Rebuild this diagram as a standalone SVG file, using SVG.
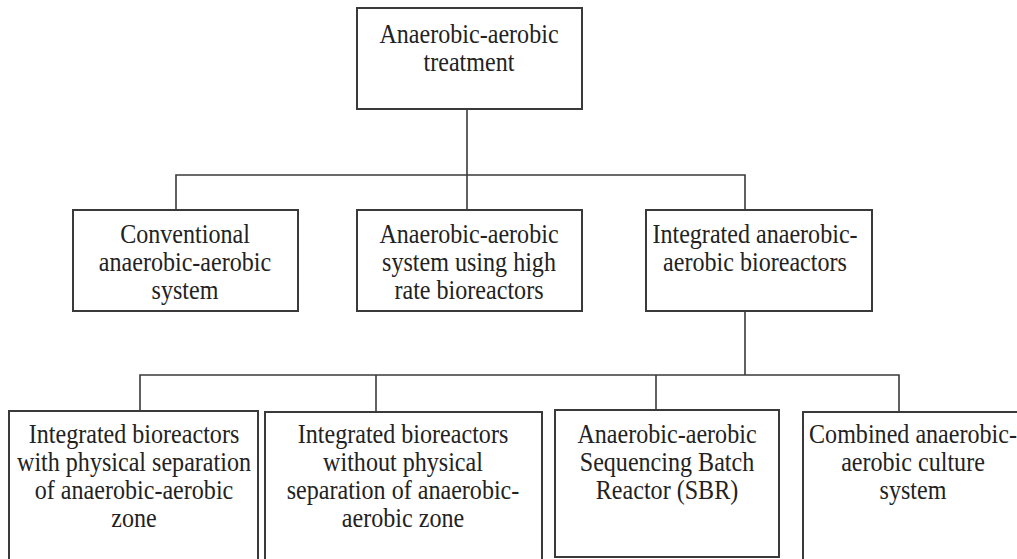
<svg xmlns="http://www.w3.org/2000/svg" width="1017" height="559" viewBox="0 0 1017 559">
<style>
.box{fill:#fff;stroke:#3a3a3a;stroke-width:2}
.t{font-size:28px;fill:#222;text-anchor:middle}
.c{fill:none;stroke:#3a3a3a;stroke-width:1.6}
</style>
<rect width="1017" height="559" fill="#fff"/>
<g id="connectors">
<path class="c" d="M467 109V210"/>
<path class="c" d="M176 210V175H745V210"/>
<path class="c" d="M745 311V375"/>
<path class="c" d="M140 411V375H899V412"/>
<path class="c" d="M376 375V412"/>
<path class="c" d="M656 375V410"/>
</g>
<g id="n-root">
<rect class="box" x="357" y="8" width="225" height="101"/>
<text class="t" font-family="Liberation Serif, serif" transform="translate(469 0) scale(0.86 1)"><tspan x="0" y="43">Anaerobic-aerobic</tspan><tspan x="0" y="71">treatment</tspan></text>
</g>
<g id="n-conventional">
<rect class="box" x="73" y="210" width="225" height="101"/>
<text class="t" font-family="Liberation Serif, serif" transform="translate(185 0) scale(0.86 1)"><tspan x="0" y="243">Conventional</tspan><tspan x="0" y="271">anaerobic-aerobic</tspan><tspan x="0" y="299">system</tspan></text>
</g>
<g id="n-highrate">
<rect class="box" x="357" y="210" width="225" height="101"/>
<text class="t" font-family="Liberation Serif, serif" transform="translate(469 0) scale(0.86 1)"><tspan x="0" y="243">Anaerobic-aerobic</tspan><tspan x="0" y="271">system using high</tspan><tspan x="0" y="299">rate bioreactors</tspan></text>
</g>
<g id="n-integrated">
<rect class="box" x="646" y="210" width="226" height="101"/>
<text class="t" font-family="Liberation Serif, serif" transform="translate(755 0) scale(0.86 1)"><tspan x="0" y="243">Integrated anaerobic-</tspan><tspan x="0" y="271">aerobic bioreactors</tspan></text>
</g>
<g id="n-with-sep">
<rect class="box" x="9" y="411" width="249" height="160"/>
<text class="t" font-family="Liberation Serif, serif" transform="translate(134 0) scale(0.86 1)"><tspan x="0" y="443">Integrated bioreactors</tspan><tspan x="0" y="471">with physical separation</tspan><tspan x="0" y="499">of anaerobic-aerobic</tspan><tspan x="0" y="527">zone</tspan></text>
</g>
<g id="n-without-sep">
<rect class="box" x="265" y="412" width="277" height="160"/>
<text class="t" font-family="Liberation Serif, serif" transform="translate(403 0) scale(0.86 1)"><tspan x="0" y="443">Integrated bioreactors</tspan><tspan x="0" y="471">without physical</tspan><tspan x="0" y="499">separation of anaerobic-</tspan><tspan x="0" y="527">aerobic zone</tspan></text>
</g>
<g id="n-sbr">
<rect class="box" x="555" y="410" width="224" height="147"/>
<text class="t" font-family="Liberation Serif, serif" transform="translate(667 0) scale(0.86 1)"><tspan x="0" y="443">Anaerobic-aerobic</tspan><tspan x="0" y="471">Sequencing Batch</tspan><tspan x="0" y="499">Reactor (SBR)</tspan></text>
</g>
<g id="n-combined">
<rect class="box" x="803" y="412" width="230" height="160"/>
<text class="t" font-family="Liberation Serif, serif" transform="translate(913 0) scale(0.86 1)"><tspan x="0" y="443">Combined anaerobic-</tspan><tspan x="0" y="471">aerobic culture</tspan><tspan x="0" y="499">system</tspan></text>
</g>
</svg>
